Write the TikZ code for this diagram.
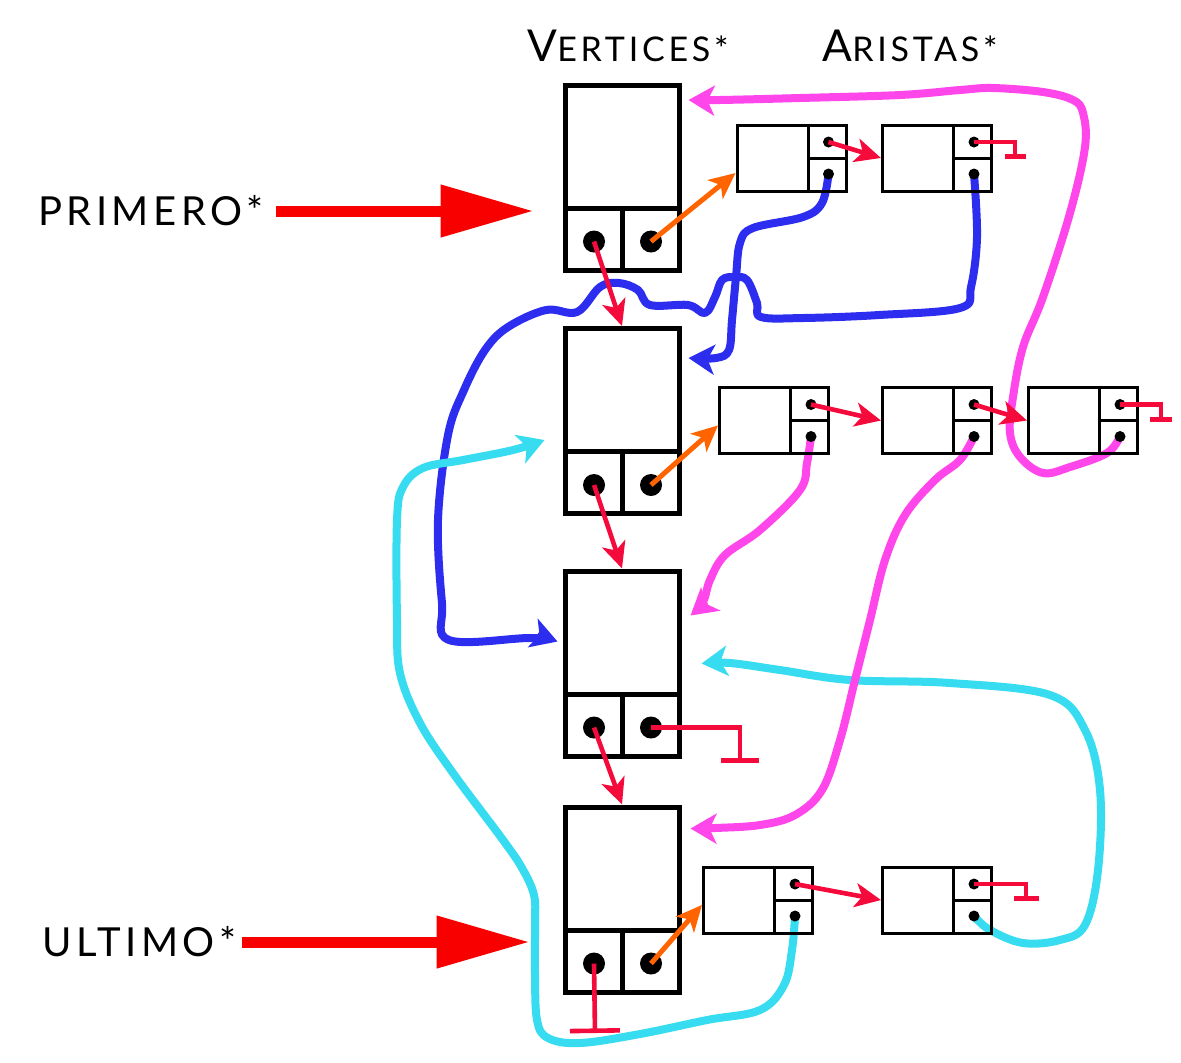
\documentclass[tikz,border=0pt]{standalone}
\usepackage{fontspec}
\setmainfont{Lato}
\newfontfamily\rotulofont[LetterSpace=11]{Lato}
\usetikzlibrary{arrows.meta,backgrounds}

\definecolor{rojo}{RGB}{248,0,0}
\definecolor{carmin}{RGB}{245,10,60}
\definecolor{naranja}{RGB}{255,100,0}
\definecolor{azul}{RGB}{45,45,240}
\definecolor{magenta}{RGB}{255,70,235}
\definecolor{celeste}{RGB}{55,220,240}

\begin{document}
\begin{tikzpicture}[x=0.5pt,y=-0.5pt,
   vertice/.style={draw, line width=2.5pt, minimum width=57pt, minimum height=92.5pt, inner sep=0pt,
      path picture={\draw[line width=2.5pt]
         ([yshift=31pt]path picture bounding box.south west) -- ([yshift=31pt]path picture bounding box.south east)
         (path picture bounding box.south) -- ([yshift=31pt]path picture bounding box.south);}},
   arista/.style={draw, line width=1.5pt, minimum width=54.5pt, minimum height=33pt, inner sep=0pt,
      path picture={\draw[line width=1.5pt]
         ([xshift=-19pt]path picture bounding box.north east) -- ([xshift=-19pt]path picture bounding box.south east)
         ([xshift=-19pt]path picture bounding box.east) -- (path picture bounding box.east);}},
   puntog/.style={circle, fill, inner sep=0pt, minimum size=11pt},
   punto/.style={circle, fill, inner sep=0pt, minimum size=5.5pt},
   rotulo/.style={font=\rotulofont\fontsize{20}{24}\selectfont, inner sep=0pt},
   enlace/.style={draw=carmin, line width=2.3pt, -{Stealth[length=13pt,width=12pt,inset=3.5pt]}},
   nulo/.style={draw=carmin, line width=2.3pt, -{Bar[width=#1]}},
   salida/.style={draw=naranja, line width=2.5pt, -{Stealth[length=13pt,width=12pt,inset=3.5pt]}},
   flecha/.style={draw=rojo, line width=5.5pt, -{Triangle[length=46.5pt,width=25pt]}},
   mano/.style={line width=4pt, line cap=round, line join=round, -{Stealth[length=13pt,width=15pt,inset=3.5pt]}}]

   \useasboundingbox (0,0) rectangle (1181,1062);

   % cabeceras
   \node[inner sep=0pt, font=\rotulofont] (tv) at (628,46) {\fontsize{22}{22}\selectfont V\fontsize{17}{17}\selectfont ERTICES*};
   \node[inner sep=0pt, font=\rotulofont] (ta) at (910,46) {\fontsize{22}{22}\selectfont A\fontsize{17}{17}\selectfont RISTAS*};

   % lista de vertices
   \node[vertice] (v1) at (622,177.5) {};
   \node[puntog] (v1i) at ([xshift=-14pt,yshift=15.5pt]v1.south) {};
   \node[puntog] (v1d) at ([xshift=14.5pt,yshift=15.5pt]v1.south) {};

   \node[vertice] (v2) at (622,421) {};
   \node[puntog] (v2i) at ([xshift=-14pt,yshift=15.5pt]v2.south) {};
   \node[puntog] (v2d) at ([xshift=14.5pt,yshift=15.5pt]v2.south) {};

   \node[vertice] (v3) at (622,663.5) {};
   \node[puntog] (v3i) at ([xshift=-14pt,yshift=15.5pt]v3.south) {};
   \node[puntog] (v3d) at ([xshift=14.5pt,yshift=15.5pt]v3.south) {};

   \node[vertice] (v4) at (622,899.5) {};
   \node[puntog] (v4i) at ([xshift=-14pt,yshift=15.5pt]v4.south) {};
   \node[puntog] (v4d) at ([xshift=14.5pt,yshift=15.5pt]v4.south) {};

   % aristas de cada vertice
   \node[arista] (a1) at (791.5,158) {};
   \node[punto] (a1s) at ([xshift=-9.5pt,yshift=8pt]a1.east) {};
   \node[punto] (a1d) at ([xshift=-9.5pt,yshift=-8pt]a1.east) {};
   \node[arista] (a2) at (937,158) {};
   \node[punto] (a2s) at ([xshift=-9.5pt,yshift=8pt]a2.east) {};
   \node[punto] (a2d) at ([xshift=-9.5pt,yshift=-8pt]a2.east) {};

   \node[arista] (b1) at (774,420.5) {};
   \node[punto] (b1s) at ([xshift=-9.5pt,yshift=8pt]b1.east) {};
   \node[punto] (b1d) at ([xshift=-9.5pt,yshift=-8pt]b1.east) {};
   \node[arista] (b2) at (937,420.5) {};
   \node[punto] (b2s) at ([xshift=-9.5pt,yshift=8pt]b2.east) {};
   \node[punto] (b2d) at ([xshift=-9.5pt,yshift=-8pt]b2.east) {};
   \node[arista] (b3) at (1083,420.5) {};
   \node[punto] (b3s) at ([xshift=-9.5pt,yshift=8pt]b3.east) {};
   \node[punto] (b3d) at ([xshift=-9.5pt,yshift=-8pt]b3.east) {};

   \node[arista] (d1) at (758,900) {};
   \node[punto] (d1s) at ([xshift=-9.5pt,yshift=8pt]d1.east) {};
   \node[punto] (d1d) at ([xshift=-9.5pt,yshift=-8pt]d1.east) {};
   \node[arista] (d2) at (937,900) {};
   \node[punto] (d2s) at ([xshift=-9.5pt,yshift=8pt]d2.east) {};
   \node[punto] (d2d) at ([xshift=-9.5pt,yshift=-8pt]d2.east) {};

   % punteros
   \node[rotulo, anchor=west] (primero) at (38,211) {PRIMERO*};
   \node[rotulo, anchor=west] (ultimo) at (42,942) {ULTIMO*};
   \draw[flecha, shorten <=6pt, shorten >=14.5pt] (primero.east) -- (primero.east -| v1.west);
   \draw[flecha, shorten <=3pt, shorten >=16.5pt] (ultimo.east) -- (ultimo.east -| v4.west);

   \draw[enlace] (v1i.center) -- (v2.north);
   \draw[enlace] (v2i.center) -- (v3.north);
   \draw[enlace] (v3i.center) -- (v4.north);

   \draw[salida] (v1d.center) -- (a1.195);
   \draw[salida] (v2d.center) -- (b1.185);
   \draw[salida] (v4d.center) -- (d1.185);

   \draw[enlace] (a1s.center) -- (a2.west);
   \draw[enlace] (b1s.center) -- (b2.west);
   \draw[enlace] (b2s.center) -- (b3.west);
   \draw[enlace] (d1s.center) -- (d2.west);

   % fin de lista
   \coordinate (n1) at (1015,159);
   \coordinate (n2) at (1161,422);
   \coordinate (n3) at (740,763);
   \coordinate (n4) at (595,1033);
   \coordinate (n5) at (1026,901);
   \draw[nulo=10.5pt] (a2s.center) -| (n1);
   \draw[nulo=11pt] (b3s.center) -| (n2);
   \draw[nulo=19pt] (v3d.center) -| (n3);
   \draw[nulo=25pt] (v4i.center) -- (n4);
   \draw[nulo=12.5pt] (d2s.center) -| (n5);

   % destinos de las aristas, a mano
   \begin{pgfonlayer}{background}
   \draw[mano, azul] plot[smooth, tension=0.6] coordinates {(a1d) (822,203) (803,217) (753,228) (740,243)
      (736,277) (732,320) (729,350) (716,358) ([xshift=3.5pt,yshift=31.5pt]v2.east)};
   \draw[mano, azul] plot[smooth, tension=0.6] coordinates {(a2d) (977,237) (971,287) (960,308) (879,315)
      (803,318) (761,317) (757,303) (747,280) (734,277) (722,280) (715,297) (705,313) (688,305) (650,305)
      (638,290) (619,283) (600,287) (577,312) (546,310) (508,327) (485,350) (464,390) (448,435) (438,520)
      (442,603) (449,640) (530,638) ([xshift=-2.5pt,yshift=11pt]v3.west)};
   \draw[mano, celeste] plot[smooth, tension=0.6] coordinates {(d1d) (792,950) (784,985) (760,1010)
      (707,1020) (640,1034) (580,1043) (548,1038) (537,1020) (535,973) (535,923) (534,895) (522,868)
      (503,840) (453,773) (420,723) (400,673) (397,620) (397,520) (403,487) (423,468) (463,460) (513,450)
      ([xshift=-9pt,yshift=-9.5pt]v2.west)};
   \draw[mano, celeste] plot[smooth, tension=0.6] coordinates {(d2d) (990,930) (1023,943) (1060,940)
      (1085,925) (1098,870) (1100,790) (1085,730) (1050,695) (950,683) (850,680) (780,670) (730,663)
      ([xshift=10pt]v3.east)};
   \draw[mano, magenta] plot[smooth, tension=0.6] coordinates {(b1d) (807,463) (800,490) (760,530)
      (725,555) (710,580) (703,602) ([xshift=4.5pt,yshift=24pt]v3.east)};
   \draw[mano, magenta] plot[smooth, tension=0.6] coordinates {(b2d) (960,460) (935,480) (905,515)
      (885,560) (870,620) (855,680) (840,740) (822,790) (795,815) (760,825) (715,828)
      ([xshift=4.5pt,yshift=35.5pt]v4.east)};
   \draw[mano, magenta] plot[smooth, tension=0.6] coordinates {(b3d) (1107,453) (1070,467) (1043,473)
      (1020,457) (1010,433) (1013,397) (1023,347) (1043,297) (1070,213) (1085,147) (1083,113) (1073,100)
      (1043,92) (993,88) (960,90) (900,95) (800,98) (720,100) ([xshift=3.5pt,yshift=38.75pt]v1.east)};
   \end{pgfonlayer}

\end{tikzpicture}
\end{document}
